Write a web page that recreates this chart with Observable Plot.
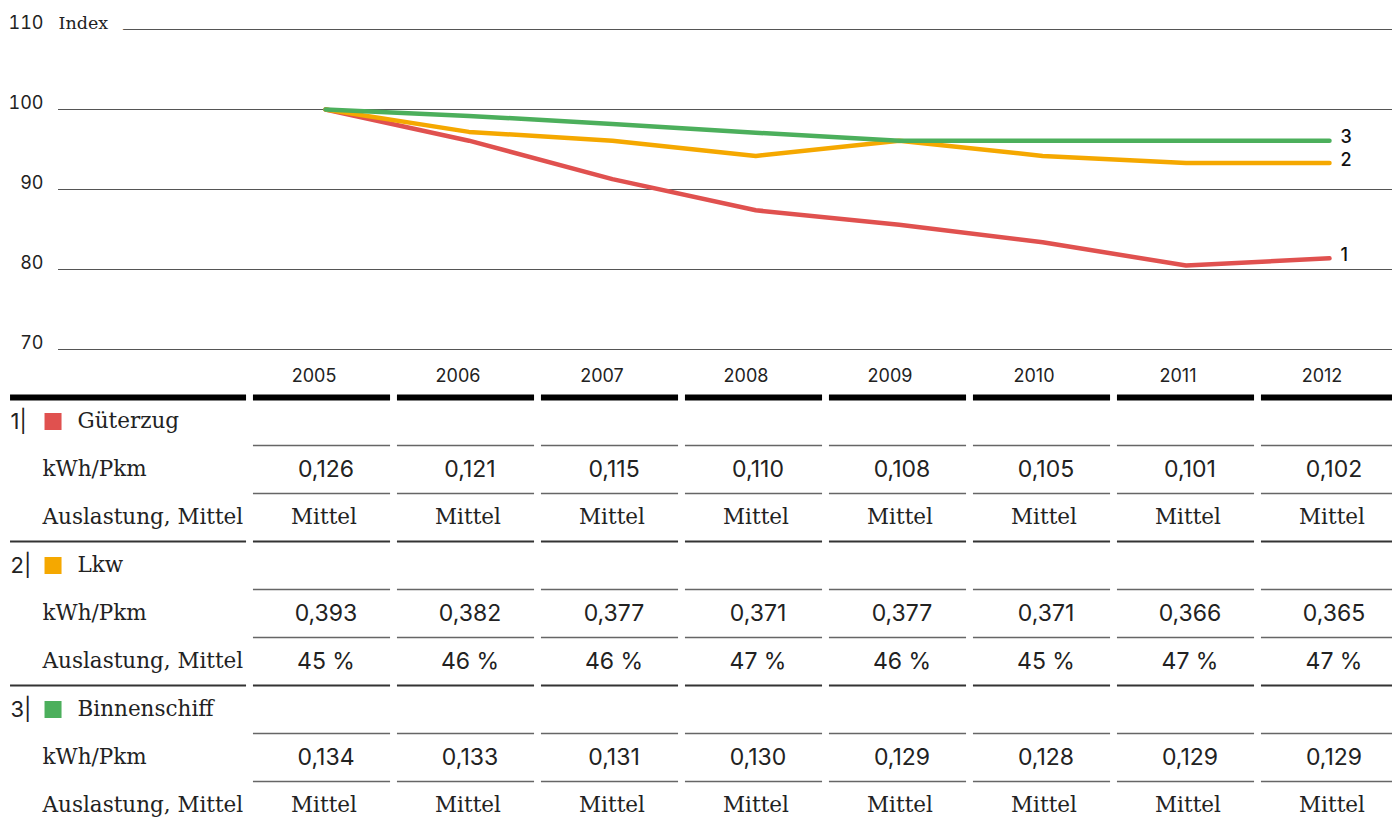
<!DOCTYPE html>
<html><head><meta charset="utf-8">
<script src="https://cdn.jsdelivr.net/npm/d3@7"></script>
<script src="https://cdn.jsdelivr.net/npm/@observablehq/plot@0.6"></script>
<style>body{margin:0;background:#fff} svg{display:block;overflow:hidden}</style>
</head><body><div id="chart"></div><div id="table"></div>
<script>
// ---- data ----
const years = [2005, 2006, 2007, 2008, 2009, 2010, 2011, 2012];
const seriesNames = ["Güterzug", "Lkw", "Binnenschiff"];
const seriesNumbers = ["1", "2", "3"];
const seriesColors = ["#e0514f", "#f5a800", "#4caf5c"];
const indexGueterzug = [100, 96.1, 91.3, 87.4, 85.6, 83.4, 80.5, 81.4];
const indexLkw = [100, 97.2, 96.1, 94.2, 96.1, 94.2, 93.3, 93.3];
const indexBinnenschiff = [100, 99.2, 98.2, 97.1, 96.1, 96.1, 96.1, 96.1];
const kwhGueterzug = ["0,126", "0,121", "0,115", "0,110", "0,108", "0,105", "0,101", "0,102"];
const kwhLkw = ["0,393", "0,382", "0,377", "0,371", "0,377", "0,371", "0,366", "0,365"];
const kwhBinnenschiff = ["0,134", "0,133", "0,131", "0,130", "0,129", "0,128", "0,129", "0,129"];
const auslastungGueterzug = ["Mittel", "Mittel", "Mittel", "Mittel", "Mittel", "Mittel", "Mittel", "Mittel"];
const auslastungLkw = ["45 %", "46 %", "46 %", "47 %", "46 %", "45 %", "47 %", "47 %"];
const auslastungBinnenschiff = ["Mittel", "Mittel", "Mittel", "Mittel", "Mittel", "Mittel", "Mittel", "Mittel"];
const rowLabels = ["kWh/Pkm", "Auslastung, Mittel"];
const yTicks = [70, 80, 90, 100, 110];
const yLabel = "Index";

const SANS = "Inter, 'DejaVu Sans', sans-serif";
const SERIF = "'DejaVu Serif', serif";

// ---- chart ----
const indexSeries = [indexGueterzug, indexLkw, indexBinnenschiff];
const lineData = [];
seriesNames.forEach((s, i) => years.forEach((y, j) => lineData.push({series: s, num: seriesNumbers[i], year: y, value: indexSeries[i][j]})));

const chart = Plot.plot({
  width: 1392, height: 360,
  marginTop: 29, marginBottom: 11, marginLeft: 58, marginRight: 0,
  x: {domain: [2005, 2012], range: [325, 1329], axis: null},
  y: {domain: [70, 110], axis: null},
  color: {domain: seriesNames, range: seriesColors},
  marks: [
    Plot.ruleY(yTicks, {stroke: "#555", strokeWidth: 1.2}),
    Plot.text([110], {y: d => d, text: () => yLabel, frameAnchor: "left", textAnchor: "start", dy: -6,
      fontFamily: SERIF, fontSize: 17.5, fill: "#222", stroke: "white", strokeWidth: 30, paintOrder: "stroke"}),
    Plot.axisY({ticks: yTicks, tickSize: 0, tickPadding: 15, dy: -6, fontSize: 18, fontFamily: SANS, fill: "#222", label: null}),
    Plot.line(lineData, {x: "year", y: "value", z: "series", stroke: "series", strokeWidth: 4.5}),
    Plot.text(lineData, Plot.selectLast({x: "year", y: "value", z: "series", text: "num", dx: 11, dy: -3,
      textAnchor: "start", fontFamily: SANS, fontSize: 18, fontWeight: 500, fill: "#111"}))
  ]
});
document.getElementById("chart").append(chart);

// ---- table ----
const kwhSeries = [kwhGueterzug, kwhLkw, kwhBinnenschiff];
const auslSeries = [auslastungGueterzug, auslastungLkw, auslastungBinnenschiff];
const half = 0.476;            // half column width (in year units)
const labL = 2005 - 2.163, labR = 2005 - 0.524; // label column extent

const cells = [], rowText = [], heads = [];
seriesNames.forEach((s, g) => {
  heads.push({r: 3 * g + 0.5, num: seriesNumbers[g] + "|", name: s, color: seriesColors[g]});
  rowText.push({r: 3 * g + 1.5, label: rowLabels[0]});
  rowText.push({r: 3 * g + 2.5, label: rowLabels[1]});
  years.forEach((y, j) => {
    cells.push({year: y, r: 3 * g + 1.5, text: kwhSeries[g][j], serif: false});
    const a = auslSeries[g][j];
    cells.push({year: y, r: 3 * g + 2.5, text: a, serif: a === "Mittel"});
  });
});
const thinRows = [1, 2, 4, 5, 7, 8];
const sepRows = [3, 6];
const colRules = (rows) => rows.flatMap(r => years.map(y => ({r, x1: y - half, x2: y + half})));
const labRules = (rows) => rows.map(r => ({r, x1: labL, x2: labR}));

const table = Plot.plot({
  width: 1392, height: 463,
  margin: 0,
  x: {domain: [2005, 2012], range: [321.5, 1329.5], axis: null},
  y: {domain: [0, 8], range: [37, 421], axis: null},
  marks: [
    Plot.ruleY([...colRules([0]), ...labRules([0])], {y: "r", x1: "x1", x2: "x2", stroke: "#000", strokeWidth: 6}),
    Plot.ruleY(colRules(thinRows), {y: "r", x1: "x1", x2: "x2", stroke: "#666", strokeWidth: 1.5}),
    Plot.ruleY([...colRules(sepRows), ...labRules(sepRows)], {y: "r", x1: "x1", x2: "x2", stroke: "#333", strokeWidth: 2}),
    Plot.text(years, {x: d => d, y: () => -0.44, text: d => String(d), dx: -8, fontFamily: SANS, fontSize: 18, fill: "#222"}),
    Plot.text(heads, {x: () => labL, y: "r", text: "num", textAnchor: "start", fontFamily: SANS, fontSize: 22, fill: "#222"}),
    Plot.dot(heads, {x: () => labL, y: "r", dx: 42.5, symbol: "square", r: 9.6, fill: "color", stroke: null}),
    Plot.text(heads, {x: () => labL, y: "r", dx: 67, text: "name", textAnchor: "start", fontFamily: SERIF, fontSize: 21.5, fill: "#222"}),
    Plot.text(rowText, {x: () => labL, y: "r", dx: 32, text: "label", textAnchor: "start", fontFamily: SERIF, fontSize: 21.5, fill: "#222"}),
    Plot.text(cells.filter(d => !d.serif), {x: "year", y: "r", text: "text", dx: 4, fontFamily: SANS, fontSize: 23, fill: "#222"}),
    Plot.text(cells.filter(d => d.serif), {x: "year", y: "r", text: "text", dx: 2, fontFamily: SERIF, fontSize: 21.5, fill: "#222"})
  ]
});
document.getElementById("table").append(table);
</script>
</body></html>
